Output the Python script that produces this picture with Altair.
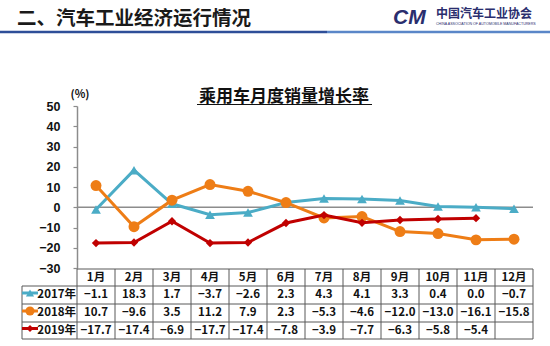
import altair as alt
import pandas as pd

months = [f"{i}月" for i in range(1, 13)]
series = ["2017年", "2018年", "2019年"]
v2017 = [-1.1, 18.3, 1.7, -3.7, -2.6, 2.3, 4.3, 4.1, 3.3, 0.4, 0.0, -0.7]
v2018 = [10.7, -9.6, 3.5, 11.2, 7.9, 2.3, -5.3, -4.6, -12.0, -13.0, -16.1, -15.8]
v2019 = [-17.7, -17.4, -6.9, -17.7, -17.4, -7.8, -3.9, -7.7, -6.3, -5.8, -5.4]
colors = ["#4BACC6", "#EE7D16", "#C00000"]
shapes = ["triangle-up", "circle", "diamond"]
sizes = [95, 120, 70]
y_ticks = [-30, -20, -10, 0, 10, 20, 30, 40, 50]

rows = []
for s, vals in zip(series, [v2017, v2018, v2019]):
    for m, v in zip(months, vals):
        rows.append({"month": m, "series": s, "value": v,
                     "label": f"{v:.1f}".replace("-", "−")})
df = pd.DataFrame(rows)
mdf = pd.DataFrame({"month": months})
one = pd.DataFrame({"a": [0]})

W, H = 456, 162
STEP = W / 12
CJK = "Noto Sans CJK SC"
GRID = "#595959"

x_enc = alt.X("month:N", sort=months,
              scale=alt.Scale(type="point", domain=months, padding=0.5), axis=None)
y_axis = alt.Axis(values=y_ticks, title=None, grid=False,
                  labelOverlap=False, labelFlush=False,
                  domainColor="#8c8c8c", domainWidth=1.5,
                  tickColor="#8c8c8c", tickSize=4, tickWidth=1.2,
                  labelFont="Liberation Sans", labelFontWeight="bold",
                  labelFontSize=12.5, labelColor="#111",
                  labelPadding=13)
y_scale = alt.Scale(domain=[-30, 50], nice=False)

base = alt.Chart(df)

layers = []

# zero line
layers.append(alt.Chart(one).mark_rule(color="#8c8c8c", strokeWidth=1.5).encode(
    x=alt.value(0), x2=alt.value(W),
    y=alt.datum(0, scale=y_scale, axis=y_axis)))

# series lines and points
for s, c, shp, sz in zip(series, colors, shapes, sizes):
    sub = base.transform_filter(alt.datum.series == s)
    y_enc = alt.Y("value:Q", scale=y_scale, axis=y_axis)
    layers.append(sub.mark_line(color=c, strokeWidth=3).encode(x=x_enc, y=y_enc))
    layers.append(sub.mark_point(color=c, shape=shp, size=sz, filled=True, opacity=1)
                  .encode(x=x_enc, y=y_enc))

# table grid: vertical lines
layers.append(alt.Chart(mdf).mark_rule(color=GRID, strokeWidth=1, xOffset=-STEP / 2).encode(
    x=x_enc, y=alt.value(163), y2=alt.value(233)))
layers.append(alt.Chart(pd.DataFrame({"month": ["12月"]}))
              .mark_rule(color=GRID, strokeWidth=1, xOffset=STEP / 2).encode(
    x=x_enc, y=alt.value(163), y2=alt.value(233)))
layers.append(alt.Chart(one).mark_rule(color=GRID, strokeWidth=1).encode(
    x=alt.value(-55), y=alt.value(180), y2=alt.value(233)))
# horizontal lines
layers.append(alt.Chart(one).mark_rule(color=GRID, strokeWidth=1).encode(
    x=alt.value(0), x2=alt.value(W), y=alt.value(163)))
for yy in [180, 198, 216, 233]:
    layers.append(alt.Chart(one).mark_rule(color=GRID, strokeWidth=1).encode(
        x=alt.value(-55), x2=alt.value(W), y=alt.value(yy)))

# month header
layers.append(alt.Chart(mdf).mark_text(font=CJK, fontWeight="bold", fontSize=11.5,
                                       color="#111", baseline="middle").encode(
    x=x_enc, y=alt.value(171.5), text="month:N"))

# table values + legend column
row_y = [189, 207, 224.5]
for s, c, shp, sz, ry in zip(series, colors, shapes, sizes, row_y):
    sub = base.transform_filter(alt.datum.series == s)
    layers.append(sub.mark_text(font=CJK, fontWeight="bold", fontSize=11.5,
                                color="#111", baseline="middle").encode(
        x=x_enc, y=alt.value(ry), text="label:N"))
    layers.append(alt.Chart(one).mark_rule(color=c, strokeWidth=3).encode(
        x=alt.value(-55), x2=alt.value(-39), y=alt.value(ry - 2)))
    layers.append(alt.Chart(one).mark_point(color=c, shape=shp, size=sz * 0.7,
                                            filled=True, opacity=1).encode(
        x=alt.value(-47), y=alt.value(ry - 2)))
    layers.append(alt.Chart(one).mark_text(text=s, font=CJK, fontWeight="bold",
                                           fontSize=11.5, color="#111", align="right",
                                           baseline="middle").encode(
        x=alt.value(-1), y=alt.value(ry)))

# (%) unit
layers.append(alt.Chart(one).mark_text(text="(%)", font=CJK, fontWeight="bold",
                                       fontSize=11, color="#111", baseline="middle").encode(
    x=alt.value(3), y=alt.value(-11)))

# chart title with underline
layers.append(alt.Chart(one).mark_text(text="乘用车月度销量增长率", font=CJK,
                                       fontWeight="bold", fontSize=17, color="#111",
                                       baseline="middle").encode(
    x=alt.value(207), y=alt.value(-9)))
layers.append(alt.Chart(one).mark_rule(color="#111", strokeWidth=1.2).encode(
    x=alt.value(120), x2=alt.value(295), y=alt.value(-1.5)))

# page header
layers.append(alt.Chart(one).mark_text(text="二、汽车工业经济运行情况", font=CJK,
                                       fontWeight="bold", fontSize=19.5, color="#1a1a1a",
                                       align="left", baseline="middle").encode(
    x=alt.value(-60), y=alt.value(-87)))
layers.append(alt.Chart(one).mark_rule(color="#2E4E98", strokeWidth=2.5).encode(
    x=alt.value(-77), x2=alt.value(250), y=alt.value(-74)))
layers.append(alt.Chart(one).mark_rule(color="#5A86C8", strokeWidth=2.5).encode(
    x=alt.value(250), x2=alt.value(473), y=alt.value(-74)))

# logo
layers.append(alt.Chart(one).mark_text(text="CM", font="Liberation Sans",
                                       fontWeight="bold", fontStyle="italic", fontSize=21,
                                       color="#2A2E6E", align="left", baseline="middle").encode(
    x=alt.value(316), y=alt.value(-88)))
layers.append(alt.Chart(one).mark_text(text="中国汽车工业协会", font=CJK,
                                       fontWeight="bold", fontSize=12, color="#2A2E6E",
                                       align="left", baseline="middle").encode(
    x=alt.value(359), y=alt.value(-92)))
layers.append(alt.Chart(one).mark_text(text="CHINA ASSOCIATION OF AUTOMOBILE MANUFACTURERS",
                                       font="Liberation Sans", fontSize=3.6, color="#2A2E6E",
                                       align="left", baseline="middle").encode(
    x=alt.value(359), y=alt.value(-82)))

chart = alt.layer(*layers).properties(
    width=W, height=H,
    autosize="none",
    padding={"left": 77, "top": 106, "right": 550 - 77 - W, "bottom": 346 - 106 - H},
    background="white",
).configure_view(stroke=None).configure_axis(labelOverlap=False)

chart.save("out.html", embed_options={"renderer": "svg", "actions": False})
